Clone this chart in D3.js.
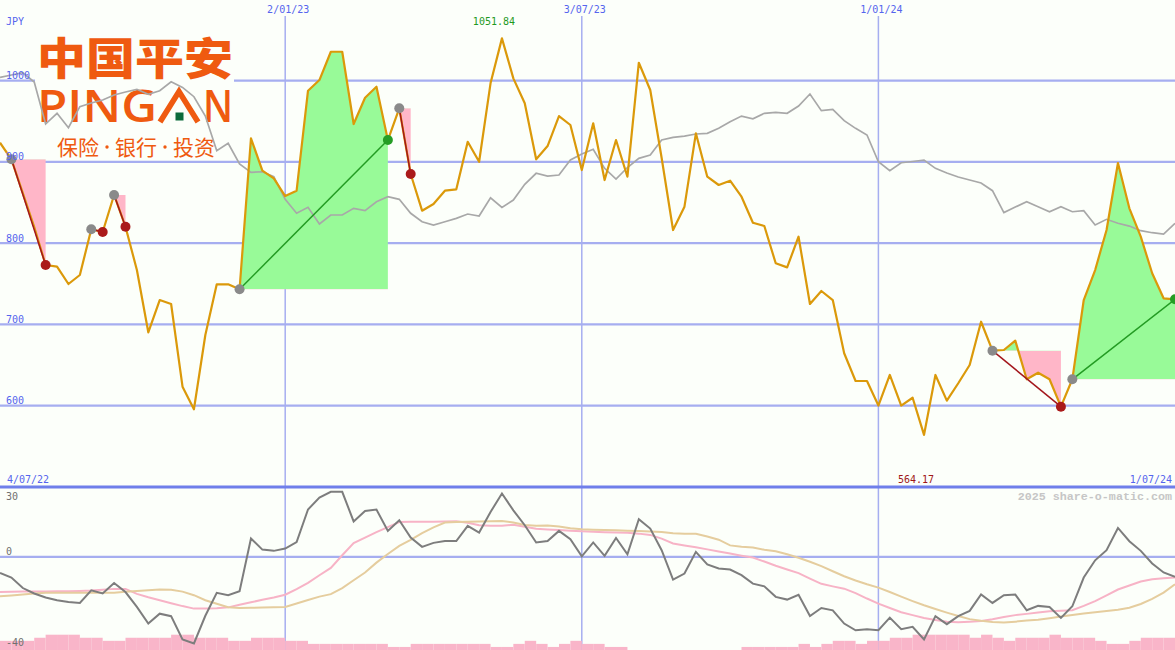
<!DOCTYPE html>
<html><head><meta charset="utf-8">
<script src="https://cdn.jsdelivr.net/npm/d3@7"></script>
<style>html,body{margin:0;padding:0;background:#fcfffa;}svg{display:block;}</style>
</head><body>
<script>
// ---------- DATA ----------
const firstWeek = "2022-07-11";
const lastWeek = "2024-07-01";
const prices = [923.5,903.1,861.6,819.8,773.1,771.0,749.7,760.8,817.0,813.7,
  859.2,820.2,766.9,690.3,730.0,725.1,623.4,595.6,687.0,749.3,
  749.3,743.2,928.9,889.1,879.7,857.9,864.5,987.5,1000.6,1035.4,
  1035.4,946.5,978.8,992.4,926.8,965.8,885.0,839.9,848.1,864.5,
  866.2,924.7,900.1,996.6,1051.84,1002.7,972.0,903.1,919.4,956.3,
  945.3,889.9,947.4,877.6,926.8,881.7,1021.9,988.3,904.7,816.1,
  844.8,935.1,881.7,871.5,876.8,857.1,825.1,821.0,775.2,770.2,
  807.9,725.1,741.1,730.0,664.5,630.4,630.4,600.2,637.8,600.2,
  609.8,564.17,637.8,606.2,627.6,650.1,703.3,667.7,668.5,680.0,
  632.5,640.6,632.5,598.8,632.5,730.0,766.9,816.1,898.5,842.8,
  807.9,762.9,732.1,730.9];
const movingAvg = [1003.9,1006.8,1009.6,998.2,946.5,959.7,941.9,967.8,972.3,976.0,
  982.2,985.9,989.2,983.0,987.5,998.5,991.6,980.1,956.3,913.7,
  922.8,897.3,887.1,887.8,881.7,853.9,836.7,844.0,823.5,834.6,
  834.6,842.8,839.9,850.9,857.1,853.9,836.7,826.3,822.3,826.3,
  830.5,835.8,833.3,855.8,844.0,853.0,872.3,885.9,882.5,883.8,
  902.2,909.6,915.4,892.0,878.8,893.0,904.3,908.4,926.8,930.1,
  931.7,934.2,935.1,941.2,949.3,956.3,953.0,959.7,960.9,959.7,
  968.6,983.4,962.9,964.6,950.6,941.2,933.0,900.1,889.1,898.9,
  900.4,902.2,892.0,886.2,881.3,877.6,873.9,864.5,837.6,844.4,
  850.9,844.8,838.6,844.8,838.6,839.9,822.3,829.3,824.4,821.0,
  815.3,812.8,811.2,824.4];
const oscillator = [-7.6,-9.8,-14.8,-17.4,-19.3,-20.6,-21.4,-21.9,-15.9,-17.4,
  -12.4,-16.7,-23.8,-31.7,-27.0,-28.2,-39.3,-41.2,-28.0,-17.1,
  -18.2,-16.3,8.8,3.5,2.9,4.0,7.1,22.6,28.3,31.0,
  31.0,16.9,21.9,22.6,12.4,17.5,9.2,4.8,6.7,7.6,
  7.6,14.8,11.6,21.4,30.2,22.2,15.1,6.9,7.6,12.4,
  8.4,0.3,6.9,0.5,9.0,1.3,18.0,13.5,3.2,-10.8,
  -7.9,2.4,-3.6,-5.5,-6.0,-8.7,-12.7,-14.0,-19.0,-20.3,
  -18.0,-28.1,-24.3,-25.4,-31.7,-34.9,-34.4,-34.9,-28.9,-34.4,
  -33.3,-39.3,-28.2,-32.0,-28.2,-25.7,-17.8,-21.9,-18.2,-17.9,
  -25.4,-23.3,-23.8,-29.0,-23.5,-9.8,-1.6,3.2,13.8,7.5,
  2.9,-3.1,-7.4,-9.5];
const oscFast = [-16.7,-16.6,-16.5,-16.4,-16.4,-16.3,-16.3,-16.2,-16.0,-15.6,
  -15.2,-15.2,-17.6,-19.2,-20.6,-22.0,-23.4,-24.6,-24.6,-24.4,
  -24.0,-22.8,-21.6,-20.4,-19.3,-18.0,-15.3,-12.3,-8.7,-5.2,
  0.8,6.6,9.2,11.8,14.2,16.6,16.7,16.7,16.8,16.9,
  17.0,16.3,15.1,14.9,14.9,15.3,14.4,13.4,13.1,12.8,
  12.5,12.2,12.0,11.8,11.6,11.5,11.1,10.5,8.7,6.4,
  5.5,4.6,3.6,2.6,1.6,0.6,-0.3,-2.2,-4.2,-6.0,
  -7.7,-10.3,-12.8,-14.0,-15.1,-17.2,-19.8,-22.2,-24.3,-26.3,
  -27.7,-29.1,-30.0,-30.8,-31.1,-30.8,-30.5,-29.7,-28.6,-27.7,
  -27.1,-26.5,-25.9,-25.6,-25.4,-23.3,-21.0,-18.3,-15.5,-13.6,
  -11.7,-10.6,-10.1,-9.8];
const oscSlow = [-18.7,-18.3,-17.9,-17.4,-17.0,-17.0,-17.0,-17.0,-17.0,-17.0,
  -17.0,-16.6,-16.2,-15.8,-15.5,-15.6,-16.5,-18.2,-20.6,-22.3,
  -23.9,-24.3,-24.2,-24.1,-24.0,-23.8,-22.2,-20.5,-18.9,-17.7,
  -14.8,-11.1,-7.4,-2.7,1.4,5.3,8.1,11.3,14.1,16.4,
  16.6,16.7,16.9,17.0,17.1,16.4,15.2,14.9,15.0,14.5,
  13.7,13.2,13.0,12.8,12.7,12.5,12.4,12.1,11.9,11.3,
  11.0,11.0,9.7,8.2,5.5,4.9,4.5,3.4,2.7,1.3,
  -0.4,-2.3,-4.4,-6.8,-9.2,-11.2,-13.0,-14.6,-16.7,-18.9,
  -21.0,-23.0,-24.8,-26.5,-28.1,-29.6,-30.4,-31.0,-31.2,-30.8,
  -30.3,-29.9,-29.2,-28.4,-27.6,-26.9,-26.3,-25.7,-25.1,-24.2,
  -22.4,-20.0,-17.0,-13.0];
const volume = [3,3,3,4,5,5,5,4,4,3,
  3,4,4,4,4,5,5,4,4,4,
  3,3,4,4,4,3,3,2,2,2,
  2,2,2,2,1,1,2,2,2,2,
  2,2,2,1,1,2,3,2,1,2,
  3,2,2,1,1,0,0,0,0,0,
  0,0,0,0,0,1,1,1,1,1,
  2,1,2,3,3,2,3,3,4,4,
  5,5,5,5,5,4,5,4,3,4,
  4,4,5,4,4,4,3,2,2,3,
  4,4,4,4];
const tradeEntries = [1,8,10,21,35,87,94];
const tradeExits   = [4,9,11,34,36,93,103];
const priceTicks = [600,700,800,900,1000];
const dateTickDates = ["2023-01-02","2023-07-03","2024-01-01"];
const dateTickLabels = ["2/01/23","3/07/23","1/01/24"];
const oscTickValues = [30,0,-40];
const oscTickLabels = ["30","0","-40"];
const rangeStartLabel = "4/07/22";
const rangeEndLabel = "1/07/24";
const currencyLabel = "JPY";
const creditText = "2025 share-o-matic.com";
const logoTitle = "中国平安";
const logoTagline = ["保险", "银行", "投资"];

// ---------- SETUP ----------
const W = 1175, H = 650;
const BG = "#fcfffa";
const parse = d3.timeParse("%Y-%m-%d");
const dates = d3.timeMonday.range(parse(firstWeek), d3.timeDay.offset(parse(lastWeek), 1));
const x = d3.scaleTime().domain([parse(firstWeek), parse(lastWeek)]).range([0, W]);
const yP = d3.scaleLinear().domain([500, 1080]).range([487, 15.5]);
const yB = d3.scaleLinear().domain([-44.3, 33.3]).range([650, 487]);
const yV = d3.scaleLinear().domain([0, 5]).range([0, 15.3]);

const svg = d3.select("body").append("svg").attr("width", W).attr("height", H);
svg.append("rect").attr("width", W).attr("height", H).attr("fill", BG);

const labelFont = "'DejaVu Sans Mono', monospace";
const blue = "#5565ee";
const gridCol = "#a6aef0";

// horizontal grid (main)
svg.append("g").selectAll("line").data(priceTicks).join("line")
  .attr("x1", 0).attr("x2", W).attr("y1", d => yP(d)).attr("y2", d => yP(d))
  .attr("stroke", gridCol).attr("stroke-width", 2.2);
// zero line (bottom)
svg.append("line").attr("x1", 0).attr("x2", W).attr("y1", yB(0)).attr("y2", yB(0))
  .attr("stroke", gridCol).attr("stroke-width", 2.2);
// vertical grid
svg.append("g").selectAll("line").data(dateTickDates).join("line")
  .attr("x1", d => x(parse(d))).attr("x2", d => x(parse(d)))
  .attr("y1", 16).attr("y2", H)
  .attr("stroke", gridCol).attr("stroke-width", 1.5);

// logo
const logo = svg.append("g");
logo.append("rect").attr("x", 35).attr("y", 32).attr("width", 199).attr("height", 126).attr("fill", BG);
const orange = "#ef5a10";
logo.append("text").attr("x", 37).attr("y", 75).attr("font-family", "'Noto Sans CJK SC'")
  .attr("font-weight", 900).attr("font-size", 44).attr("fill", orange)
  .attr("textLength", 196).attr("lengthAdjust", "spacingAndGlyphs").text(logoTitle);
logo.append("text").attr("x", 37).attr("y", 122).attr("font-family", "'Open Sans'")
  .attr("font-weight", 600).attr("font-size", 45).attr("fill", orange)
  .attr("textLength", 120).attr("lengthAdjust", "spacingAndGlyphs").text("PING");
logo.append("path").attr("d", "M160,122 L179,91.5 L198,122").attr("fill", "none")
  .attr("stroke", orange).attr("stroke-width", 5.6);
logo.append("rect").attr("x", 175.5).attr("y", 112.5).attr("width", 8).attr("height", 8).attr("fill", "#0b6b3b");
logo.append("text").attr("x", 203).attr("y", 122).attr("font-family", "'Open Sans'")
  .attr("font-weight", 600).attr("font-size", 45).attr("fill", orange)
  .attr("textLength", 30).attr("lengthAdjust", "spacingAndGlyphs").text("N");
const tagX = [57, 115, 173];
logo.selectAll("text.sub").data(logoTagline).join("text").attr("class","sub")
  .attr("x", (d, k) => tagX[k]).attr("y", 155).attr("font-family", "'Noto Sans CJK SC'")
  .attr("font-size", 21).attr("fill", orange)
  .attr("textLength", 42).attr("lengthAdjust", "spacingAndGlyphs").text(d => d);
logo.selectAll("circle.dot").data([107, 165]).join("circle").attr("class", "dot")
  .attr("cx", d => d).attr("cy", 147).attr("r", 1.7).attr("fill", orange);

// trade fills
const defs = svg.append("defs");
const trades = tradeEntries.map((e, k) => ({ e, x: tradeExits[k] }));
trades.forEach((t, k) => {
  const ye = yP(prices[t.e]);
  defs.append("clipPath").attr("id", "up" + k).append("rect")
    .attr("x", 0).attr("y", 0).attr("width", W).attr("height", ye);
  defs.append("clipPath").attr("id", "dn" + k).append("rect")
    .attr("x", 0).attr("y", ye).attr("width", W).attr("height", 487 - ye);
  const idx = d3.range(t.e, t.x + 1);
  const area = d3.area().x(i => x(dates[i])).y0(ye).y1(i => yP(prices[i]));
  svg.append("path").attr("d", area(idx)).attr("fill", "#98fa98").attr("clip-path", `url(#up${k})`);
  svg.append("path").attr("d", area(idx)).attr("fill", "#ffb6c8").attr("clip-path", `url(#dn${k})`);
});

// volume bars
svg.append("g").selectAll("rect").data(volume).join("rect")
  .attr("x", (d, i) => x(dates[i]))
  .attr("width", (d, i) => x(d3.timeDay.offset(dates[i], 7)) - x(dates[i]))
  .attr("y", d => H - yV(d)).attr("height", d => yV(d)).attr("fill", "#f9b5c9");

// bottom panel lines
const lineB = arr => d3.line().x((d, i) => x(dates[i])).y(d => yB(d))(arr);
svg.append("path").attr("d", lineB(oscFast)).attr("fill", "none").attr("stroke", "#f7b3c6").attr("stroke-width", 2);
svg.append("path").attr("d", lineB(oscSlow)).attr("fill", "none").attr("stroke", "#e5cd9e").attr("stroke-width", 2);
svg.append("path").attr("d", lineB(oscillator)).attr("fill", "none").attr("stroke", "#7d7d7d").attr("stroke-width", 2);

// separator
svg.append("line").attr("x1", 0).attr("x2", W).attr("y1", 487).attr("y2", 487)
  .attr("stroke", "#6f7fea").attr("stroke-width", 3);

// main lines
const lineP = arr => d3.line().x((d, i) => x(dates[i])).y(d => yP(d))(arr);
svg.append("path").attr("d", lineP(movingAvg)).attr("fill", "none").attr("stroke", "#a8a8a8").attr("stroke-width", 1.7);
svg.append("path").attr("d", lineP(prices)).attr("fill", "none").attr("stroke", "#db990a").attr("stroke-width", 2.2).attr("stroke-linejoin", "round");

// trade connectors and markers
trades.forEach(t => {
  const win = prices[t.x] > prices[t.e];
  svg.append("line").attr("x1", x(dates[t.e])).attr("y1", yP(prices[t.e]))
    .attr("x2", x(dates[t.x])).attr("y2", yP(prices[t.x]))
    .attr("stroke", win ? "#239b23" : "#a3161c").attr("stroke-width", 1.5);
});
trades.forEach(t => {
  const win = prices[t.x] > prices[t.e];
  svg.append("circle").attr("cx", x(dates[t.e])).attr("cy", yP(prices[t.e])).attr("r", 5).attr("fill", "#8a8a8a");
  svg.append("circle").attr("cx", x(dates[t.x])).attr("cy", yP(prices[t.x])).attr("r", 5).attr("fill", win ? "#259d25" : "#aa1a1a");
});

// labels
const txt = (s, xx, yy, col, anchor) => svg.append("text").attr("x", xx).attr("y", yy)
  .attr("font-family", labelFont).attr("font-size", 10).attr("fill", col)
  .attr("text-anchor", anchor || "start").text(s);
txt(currencyLabel, 6, 24.5, blue);
priceTicks.forEach(v => txt(String(v), 6, yP(v) - 1.5, blue));
dateTickDates.forEach((d, k) => txt(dateTickLabels[k], x(parse(d)) + 3, 13, blue, "middle"));
const iMax = d3.maxIndex(prices), iMin = d3.minIndex(prices);
txt(d3.format(".2f")(prices[iMax]), x(dates[iMax]) - 8, 25, "#1f9a1f", "middle");
txt(d3.format(".2f")(prices[iMin]), x(dates[iMin]) - 8, 483, "#a01818", "middle");
txt(rangeStartLabel, 7, 483, blue);
txt(rangeEndLabel, 1172, 483, blue, "end");
const oscLabelY = [499.5, yB(0) - 2, 646];
oscTickValues.forEach((v, k) => txt(oscTickLabels[k], 6, oscLabelY[k], "#707070"));
svg.append("text").attr("x", 1172).attr("y", 500).attr("text-anchor", "end")
  .attr("font-family", "'Liberation Mono', monospace").attr("font-weight", "bold")
  .attr("font-size", 11.7).attr("fill", "#c6c6c6").text(creditText);
</script>
</body></html>
